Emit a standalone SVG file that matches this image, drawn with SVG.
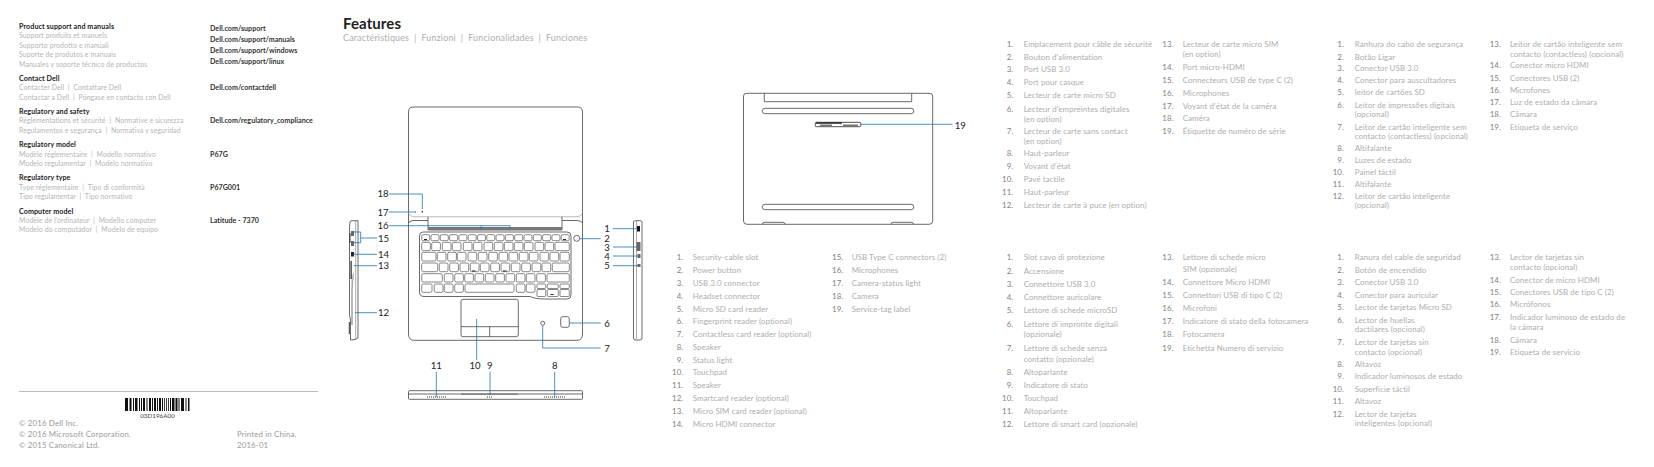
<svg xmlns="http://www.w3.org/2000/svg" width="1654" height="467" viewBox="0 0 1654 467">
<style>
text{font-family:Lato,"Open Sans","Liberation Sans",sans-serif;font-size:7.9px;font-weight:400;fill:#adadad;letter-spacing:.1px;white-space:pre}
.h{font-size:7.1px;font-weight:700;fill:#222;letter-spacing:.1px}
.s{font-size:6.9px;fill:#b5b5b5;letter-spacing:.1px}
.v{font-size:7.100px;font-weight:700;fill:#333;letter-spacing:.02px}
.n{text-anchor:end;fill:#808080}
.c{font-size:7.800px;fill:#999;letter-spacing:.18px}
.d{font-size:9.6px;font-weight:400;fill:#222;text-anchor:middle;letter-spacing:0}
.o{fill:none;stroke:#444;stroke-width:.8}
.k rect{fill:none;stroke:#555;stroke-width:.7}
.l{fill:none;stroke:#1f74ab;stroke-width:.8}
.g{fill:#777}
</style>
<rect width="1654" height="467" fill="#fff"/>
<g id="support-info">
<text class="h" x="19" y="28.5">Product support and manuals</text>
<text class="s" x="19" y="37.5">Support produits et manuels</text>
<text class="s" x="19" y="47.5">Supporto prodotto e manuali</text>
<text class="s" x="19" y="56.5">Suporte de produtos e manuais</text>
<text class="s" x="19" y="66.5">Manuales y soporte técnico de productos</text>
<text class="h" x="19" y="80.5">Contact Dell</text>
<text class="s" x="19" y="89.5">Contacter Dell  |  Contattare Dell</text>
<text class="s" x="19" y="99.5">Contactar a Dell  |  Póngase en contacto con Dell</text>
<text class="h" x="19" y="113.5">Regulatory and safety</text>
<text class="s" x="19" y="122.5">Réglementations et sécurité  |  Normative e sicurezza</text>
<text class="s" x="19" y="132.5">Regulamentos e segurança  |  Normativa y seguridad</text>
<text class="h" x="19" y="146.5">Regulatory model</text>
<text class="s" x="19" y="156.5">Modèle réglementaire  |  Modello normativo</text>
<text class="s" x="19" y="165.5">Modelo regulamentar  |  Modelo normativo</text>
<text class="h" x="19" y="179.5">Regulatory type</text>
<text class="s" x="19" y="189.5">Type réglementaire  |  Tipo di conformità</text>
<text class="s" x="19" y="198.5">Tipo regulamentar  |  Tipo normativo</text>
<text class="h" x="19" y="213.5">Computer model</text>
<text class="s" x="19" y="222.5">Modèle de l’ordinateur  |  Modello computer</text>
<text class="s" x="19" y="231.5">Modelo do computador  |  Modelo de equipo</text>
<text class="v" x="210" y="30.5">Dell.com/support</text>
<text class="v" x="210" y="41.5">Dell.com/support/manuals</text>
<text class="v" x="210" y="52.5">Dell.com/support/windows</text>
<text class="v" x="210" y="63.5">Dell.com/support/linux</text>
<text class="v" x="210" y="89.5">Dell.com/contactdell</text>
<text class="v" x="210" y="122.5">Dell.com/regulatory_compliance</text>
<text class="v" x="210" y="156.5">P67G</text>
<text class="v" x="210" y="189.5">P67G001</text>
<text class="v" x="210" y="222.5">Latitude - 7370</text>
</g>
<g id="footer">
<line x1="19" y1="391.5" x2="318" y2="391.5" stroke="#aaa" stroke-width=".8"/>
<path fill="#111" d="M125 398h3v13h-3zM129.500 398h2v13h-2zM133 398h1v13h-1zM135 398h2.500v13h-2.500zM139 398h1v13h-1zM141 398h1v13h-1zM143 398h2v13h-2zM146.500 398h1v13h-1zM149 398h2v13h-2zM152 398h1v13h-1zM154 398h2v13h-2zM157 398h1v13h-1zM159 398h2v13h-2zM162 398h1v13h-1zM164 398h.8v13h-.8zM166 398h.8v13h-.8zM168 398h.8v13h-.8zM170 398h1v13h-1zM172 398h2.500v13h-2.500zM175.500 398h2v13h-2zM178.500 398h1v13h-1zM181 398h3v13h-3zM185.500 398h1v13h-1zM188 398h1.500v13h-1.500z"/>
<text x="157.500" y="418" text-anchor="middle" style="font-size:6.300px;font-weight:400;fill:#444;letter-spacing:0">03D196A00</text>
<text class="c" x="19" y="425.500">© 2016 Dell Inc.</text>
<text class="c" x="19" y="436.500">© 2016 Microsoft Corporation.</text>
<text class="c" x="19" y="447.500">© 2015 Canonical Ltd.</text>
<text class="c" x="237" y="436.500">Printed in China.</text>
<text class="c" x="237" y="447.500">2016-01</text>
</g>
<g id="title">
<text x="343" y="28.500" style="font-size:15px;font-weight:700;fill:#222;letter-spacing:.1px">Features</text>
<text x="343" y="41" style="font-size:8.900px;fill:#adadad;letter-spacing:.2px">Caractéristiques  |  Funzioni  |  Funcionalidades  |  Funciones</text>
</g>
<g id="laptop-top">
<path class="o" d="M408.500 112Q408.500 107 413 107H577.500Q582.500 107 582.500 112V334Q582.500 340.300 577 340.300H414Q408.500 340.300 408.500 334Z"/>
<path fill="none" stroke="#999" stroke-width=".7" d="M408.500 212Q409 216.800 415 216.800H576Q582 216.800 582.500 212"/>
<path class="o" d="M428 216.800V230H562V216.800M428 220.500H413Q409 220.800 409 223M562 220.500H577Q582 220.800 582.200 223"/>
<rect class="g" x="428" y="227" width="134" height="3"/>
<path class="o" d="M423 232H567Q571 232 571 236V295Q571 299 567 299H545Q535 299 530 296.500H424Q419.500 296.500 419.500 292V236Q419.500 232 423 232Z"/>
<g class="k">
<rect rx="1.500" x="421.700" y="234.700" width="8" height="6"/><rect rx="1.500" x="431" y="234.700" width="8" height="6"/><rect rx="1.500" x="440.300" y="234.700" width="8" height="6"/><rect rx="1.500" x="449.600" y="234.700" width="8" height="6"/><rect rx="1.500" x="458.900" y="234.700" width="8" height="6"/><rect rx="1.500" x="468.200" y="234.700" width="8" height="6"/><rect rx="1.500" x="477.500" y="234.700" width="8" height="6"/><rect rx="1.500" x="486.800" y="234.700" width="8" height="6"/><rect rx="1.500" x="496.100" y="234.700" width="8" height="6"/><rect rx="1.500" x="505.400" y="234.700" width="8" height="6"/><rect rx="1.500" x="514.700" y="234.700" width="8" height="6"/><rect rx="1.500" x="524" y="234.700" width="8" height="6"/><rect rx="1.500" x="533.300" y="234.700" width="8" height="6"/><rect rx="1.500" x="542.600" y="234.700" width="8" height="6"/><rect rx="1.500" x="551.900" y="234.700" width="8" height="6"/><rect rx="1.500" x="561.200" y="234.700" width="8" height="6"/>
<rect rx="1.500" x="421.700" y="242.300" width="8.700" height="8.400"/><rect rx="1.500" x="431.700" y="242.300" width="8.700" height="8.400"/><rect rx="1.500" x="442.300" y="242.300" width="8.700" height="8.400"/><rect rx="1.500" x="452.300" y="242.300" width="8.700" height="8.400"/><rect rx="1.500" x="463.300" y="242.300" width="8.700" height="8.400"/><rect rx="1.500" x="473.300" y="242.300" width="8.700" height="8.400"/><rect rx="1.500" x="484" y="242.300" width="8.700" height="8.400"/><rect rx="1.500" x="494.300" y="242.300" width="8.700" height="8.400"/><rect rx="1.500" x="504.300" y="242.300" width="8.700" height="8.400"/><rect rx="1.500" x="514.300" y="242.300" width="8.700" height="8.400"/><rect rx="1.500" x="524.300" y="242.300" width="8.700" height="8.400"/><rect rx="1.500" x="535" y="242.300" width="8.700" height="8.400"/><rect rx="1.500" x="545" y="242.300" width="8.700" height="8.400"/><rect rx="1.500" x="555" y="242.300" width="14.300" height="8.400"/>
<rect rx="1.500" x="421.700" y="252.300" width="14.300" height="8.700"/><rect rx="1.500" x="437.300" y="252.300" width="8.700" height="8.700"/><rect rx="1.500" x="447.700" y="252.300" width="8.700" height="8.700"/><rect rx="1.500" x="457.300" y="252.300" width="8.700" height="8.700"/><rect rx="1.500" x="468" y="252.300" width="8.700" height="8.700"/><rect rx="1.500" x="478.300" y="252.300" width="8.700" height="8.700"/><rect rx="1.500" x="488.700" y="252.300" width="8.700" height="8.700"/><rect rx="1.500" x="499" y="252.300" width="8.700" height="8.700"/><rect rx="1.500" x="509" y="252.300" width="8.700" height="8.700"/><rect rx="1.500" x="519.300" y="252.300" width="8.700" height="8.700"/><rect rx="1.500" x="529.300" y="252.300" width="8.700" height="8.700"/><rect rx="1.500" x="540" y="252.300" width="8.700" height="8.700"/><rect rx="1.500" x="550" y="252.300" width="8.700" height="8.700"/><rect rx="1.500" x="560" y="252.300" width="9.300" height="8.700"/>
<rect rx="1.500" x="421.700" y="263" width="16" height="8.700"/><rect rx="1.500" x="439.300" y="263" width="8.700" height="8.700"/><rect rx="1.500" x="449.700" y="263" width="8.700" height="8.700"/><rect rx="1.500" x="460" y="263" width="8.700" height="8.700"/><rect rx="1.500" x="470.300" y="263" width="8.700" height="8.700"/><rect rx="1.500" x="480.300" y="263" width="8.700" height="8.700"/><rect rx="1.500" x="490.700" y="263" width="8.700" height="8.700"/><rect rx="1.500" x="501" y="263" width="8.700" height="8.700"/><rect rx="1.500" x="511.300" y="263" width="8.700" height="8.700"/><rect rx="1.500" x="521.700" y="263" width="8.700" height="8.700"/><rect rx="1.500" x="532" y="263" width="8.700" height="8.700"/><rect rx="1.500" x="542" y="263" width="8.700" height="8.700"/><rect rx="1.500" x="552.300" y="263" width="17" height="8.700"/>
<rect rx="1.500" x="421.700" y="273.700" width="20.600" height="8.300"/><rect rx="1.500" x="444.300" y="273.700" width="8.700" height="8.300"/><rect rx="1.500" x="454.700" y="273.700" width="8.700" height="8.300"/><rect rx="1.500" x="464.700" y="273.700" width="8.700" height="8.300"/><rect rx="1.500" x="475" y="273.700" width="8.700" height="8.300"/><rect rx="1.500" x="485.300" y="273.700" width="8.700" height="8.300"/><rect rx="1.500" x="495.700" y="273.700" width="8.700" height="8.300"/><rect rx="1.500" x="506" y="273.700" width="8.700" height="8.300"/><rect rx="1.500" x="516.300" y="273.700" width="8.700" height="8.300"/><rect rx="1.500" x="526.300" y="273.700" width="8.700" height="8.300"/><rect rx="1.500" x="536.700" y="273.700" width="8.700" height="8.300"/><rect rx="1.500" x="547" y="273.700" width="22.300" height="8.300"/>
<rect rx="1.500" x="421.700" y="284" width="10.300" height="8.300"/><rect rx="1.500" x="434.300" y="284" width="8.700" height="8.300"/><rect rx="1.500" x="444.300" y="284" width="8.700" height="8.300"/><rect rx="1.500" x="454.700" y="284" width="8.700" height="8.300"/><rect rx="1.500" x="465" y="284" width="49" height="8.300"/><rect rx="1.500" x="516.300" y="284" width="8.700" height="8.300"/><rect rx="1.500" x="526.300" y="284" width="8.700" height="8.300"/>
<rect rx="1" x="537" y="284" width="8.700" height="4.500"/><rect rx="1" x="547.300" y="284" width="11" height="4.500"/><rect rx="1" x="560" y="284" width="9.300" height="4.500"/><rect rx="1" x="537" y="289.500" width="8.700" height="7"/><rect rx="1" x="547.300" y="289.500" width="11" height="7"/><rect rx="1" x="560" y="289.500" width="9.300" height="7"/>
</g>
<path fill="#222" d="M424 239h3v1h-3zM563 239h3v1h-3zM472 270.500h3.500v1h-3.500zM503 270.500h3.500v1h-3.500zM550.500 294h3v1h-3z"/>
<rect class="o" x="461" y="299.300" width="57.300" height="37.400" rx="2"/>
<path class="o" d="M461 326.700H518.300M489.700 326.700V336.700"/>
<circle class="o" cx="542.700" cy="323.300" r="2"/>
<rect class="o" x="560.700" y="316.700" width="8.600" height="10.600" rx="2"/>
<circle class="o" cx="576.700" cy="238.300" r="3"/>
<path fill="#333" d="M415 211.500h1v1h-1zM421.700 211h1.300v1.500h-1.300z"/>
</g>
<g id="laptop-left-side">
<path class="o" d="M350 222Q350 220.700 352 220.700H358V338Q356 340 350.500 340V320L349.500 315V228Z"/>
<path fill="none" stroke="#888" stroke-width=".7" d="M355.700 221V339M352 275V325M353.500 273L352 290V325"/>
<path fill="#666" d="M351 231h3v5h-3zM351 241h3v5h-3z"/>
<path fill="#222" d="M351 252h3v4.500h-3zM350.500 261h1.200v18h-1.200z"/>
<path fill="#333" d="M349.500 233h1v10h-1zM348.800 322h1v12h-1z"/>
</g>
<g id="laptop-right-side">
<path class="o" d="M633.500 222Q633.500 220.700 635.500 220.700H640Q642 220.700 642 222V338Q642 340 640 340H635.500Q633.500 340 633.500 338Z"/>
<path fill="none" stroke="#888" stroke-width=".7" d="M636.500 221V339"/>
<path fill="#111" d="M637 226h3v5.500h-3z"/>
<path fill="#666" d="M636.500 242h4v9h-4zM637.500 254h3v4h-3zM637.500 264h3v3h-3z"/>
</g>
<g id="laptop-front">
<rect class="o" x="408.500" y="390.700" width="174" height="8.600" rx="1"/>
<path class="o" d="M408.500 394H582.500"/>
<rect class="g" x="461" y="393.500" width="57" height="1.300"/>
<path fill="none" stroke="#777" stroke-width="1.500" stroke-dasharray="1 1" d="M427 397H447M544 397H565M487 397H493"/>
</g>
<g id="laptop-bottom">
<path class="o" d="M743.500 96Q743.500 93.300 747 93.300H929Q932.700 93.300 932.700 96V221Q932.700 224.300 929 224.300H747Q743.500 224.300 743.500 221Z"/>
<path class="o" d="M764.300 93.300V101.700H911.700V93.300"/>
<rect class="o" x="762.300" y="108.300" width="151.400" height="5.400" rx="2.500"/>
<rect class="o" x="762.300" y="204.300" width="151.400" height="5.400" rx="2.500"/>
<path class="o" d="M762.300 224.300Q762.300 222.300 765 222.300H783Q785 222.300 785 224.300M891 224.300Q891 222.300 893 222.300H911Q913.700 222.300 913.700 224.300"/>
<rect x="815.300" y="122.300" width="45.400" height="4.400" rx="1" fill="#fff" stroke="#222" stroke-width=".8"/>
<rect x="816" y="122.400" width="26" height="1.300" fill="#111"/>
<path fill="#777" d="M820 124.500h12v1.500h-12zM843 124.500h15v1.500h-15z"/>
</g>
<g id="connectors">
<path class="l" d="M389 194H422.300V209M389 212H415M389 225.700H510V229M481 225.700V229M613 228.700H636M580 238.700H600.700M613 247H637M613 256H638M613 265.700H638M570 323H600.700M542.700 326V348H600.700M476.700 319V360M490 371.700V395M436.300 371.700V397M554.700 371.700V397M377 238H360.700M353 232H360.700V242.700H353M377 254.300H353M377 265.700H354M377 312.700H355M860.700 124.300H952.300"/>
</g>
<g id="callouts">
<text class="d" x="383" y="197">18</text><text class="d" x="383" y="215.500">17</text><text class="d" x="383" y="229">16</text><text class="d" x="383.500" y="241.500">15</text><text class="d" x="383.500" y="257.500">14</text><text class="d" x="383.500" y="269">13</text><text class="d" x="383.500" y="316">12</text>
<text class="d" x="607" y="232">1</text><text class="d" x="607" y="242">2</text><text class="d" x="607" y="250.500">3</text><text class="d" x="607" y="259.500">4</text><text class="d" x="607" y="269">5</text><text class="d" x="607" y="326.500">6</text><text class="d" x="607" y="351.500">7</text>
<text class="d" x="436.300" y="369">11</text><text class="d" x="475" y="369">10</text><text class="d" x="489.700" y="369">9</text><text class="d" x="554.700" y="369">8</text><text class="d" x="960.300" y="128.500">19</text>
</g>
<g id="list-en">
<text class="n" x="683.300" y="260.300">1.</text><text x="692.700" y="260.300">Security-cable slot</text>
<text class="n" x="683.300" y="273.300">2.</text><text x="692.700" y="273.300">Power button</text>
<text class="n" x="683.300" y="286.300">3.</text><text x="692.700" y="286.300">USB 3.0 connector</text>
<text class="n" x="683.300" y="299.300">4.</text><text x="692.700" y="299.300">Headset connector</text>
<text class="n" x="683.300" y="312.300">5.</text><text x="692.700" y="312.300">Micro SD card reader</text>
<text class="n" x="683.300" y="324.300">6.</text><text x="692.700" y="324.300">Fingerprint reader (optional)</text>
<text class="n" x="683.300" y="337.300">7.</text><text x="692.700" y="337.300">Contactless card reader (optional)</text>
<text class="n" x="683.300" y="350.300">8.</text><text x="692.700" y="350.300">Speaker</text>
<text class="n" x="683.300" y="363.300">9.</text><text x="692.700" y="363.300">Status light</text>
<text class="n" x="683.300" y="375.300">10.</text><text x="692.700" y="375.300">Touchpad</text>
<text class="n" x="683.300" y="388.300">11.</text><text x="692.700" y="388.300">Speaker</text>
<text class="n" x="683.300" y="401.300">12.</text><text x="692.700" y="401.300">Smartcard reader (optional)</text>
<text class="n" x="683.300" y="414.300">13.</text><text x="692.700" y="414.300">Micro SIM card reader (optional)</text>
<text class="n" x="683.300" y="427.300">14.</text><text x="692.700" y="427.300">Micro HDMI connector</text>
<text class="n" x="843.300" y="260.300">15.</text><text x="851.700" y="260.300">USB Type C connectors (2)</text>
<text class="n" x="843.300" y="273.300">16.</text><text x="851.700" y="273.300">Microphones</text>
<text class="n" x="843.300" y="286.300">17.</text><text x="851.700" y="286.300">Camera-status light</text>
<text class="n" x="843.300" y="299.300">18.</text><text x="851.700" y="299.300">Camera</text>
<text class="n" x="843.300" y="312.300">19.</text><text x="851.700" y="312.300">Service-tag label</text>
</g>
<g id="list-fr">
<text class="n" x="1013.300" y="47.300">1.</text><text x="1023.700" y="47.300">Emplacement pour câble de sécurité</text>
<text class="n" x="1013.300" y="60.300">2.</text><text x="1023.700" y="60.300">Bouton d'alimentation</text>
<text class="n" x="1013.300" y="72.300">3.</text><text x="1023.700" y="72.300">Port USB 3.0</text>
<text class="n" x="1013.300" y="85.300">4.</text><text x="1023.700" y="85.300">Port pour casque</text>
<text class="n" x="1013.300" y="98.300">5.</text><text x="1023.700" y="98.300">Lecteur de carte micro SD</text>
<text class="n" x="1013.300" y="111.700">6.</text><text x="1023.700" y="111.700">Lecteur d'empreintes digitales</text>
<text x="1023.700" y="121.700">(en option)</text>
<text class="n" x="1013.300" y="134.300">7.</text><text x="1023.700" y="134.300">Lecteur de carte sans contact</text>
<text x="1023.700" y="144.300">(en option)</text>
<text class="n" x="1013.300" y="156.300">8.</text><text x="1023.700" y="156.300">Haut-parleur</text>
<text class="n" x="1013.300" y="169.300">9.</text><text x="1023.700" y="169.300">Voyant d'état</text>
<text class="n" x="1013.300" y="182.300">10.</text><text x="1023.700" y="182.300">Pavé tactile</text>
<text class="n" x="1013.300" y="195.300">11.</text><text x="1023.700" y="195.300">Haut-parleur</text>
<text class="n" x="1013.300" y="208.300">12.</text><text x="1023.700" y="208.300">Lecteur de carte à puce (en option)</text>
<text class="n" x="1173.700" y="47.300">13.</text><text x="1182.700" y="47.300">Lecteur de carte micro SIM</text>
<text x="1182.700" y="57.300">(en option)</text>
<text class="n" x="1173.700" y="70.300">14.</text><text x="1182.700" y="70.300">Port micro-HDMI</text>
<text class="n" x="1173.700" y="83.300">15.</text><text x="1182.700" y="83.300">Connecteurs USB de type C (2)</text>
<text class="n" x="1173.700" y="95.700">16.</text><text x="1182.700" y="95.700">Microphones</text>
<text class="n" x="1173.700" y="108.700">17.</text><text x="1182.700" y="108.700">Voyant d'état de la caméra</text>
<text class="n" x="1173.700" y="121.300">18.</text><text x="1182.700" y="121.300">Caméra</text>
<text class="n" x="1173.700" y="134.300">19.</text><text x="1182.700" y="134.300">Étiquette de numéro de série</text>
</g>
<g id="list-pt">
<text class="n" x="1344" y="47.300">1.</text><text x="1354.700" y="47.300">Ranhura do cabo de segurança</text>
<text class="n" x="1344" y="59.700">2.</text><text x="1354.700" y="59.700">Botão Ligar</text>
<text class="n" x="1344" y="71.300">3.</text><text x="1354.700" y="71.300">Conector USB 3.0</text>
<text class="n" x="1344" y="83.300">4.</text><text x="1354.700" y="83.300">Conector para auscultadores</text>
<text class="n" x="1344" y="95.300">5.</text><text x="1354.700" y="95.300">leitor de cartões SD</text>
<text class="n" x="1344" y="108.300">6.</text><text x="1354.700" y="108.300">Leitor de impressões digitais</text>
<text x="1354.700" y="117.300">(opcional)</text>
<text class="n" x="1344" y="129.700">7.</text><text x="1354.700" y="129.700">Leitor de cartão inteligente sem</text>
<text x="1354.700" y="138.700">contacto (contactless) (opcional)</text>
<text class="n" x="1344" y="150.700">8.</text><text x="1354.700" y="150.700">Altifalante</text>
<text class="n" x="1344" y="163.300">9.</text><text x="1354.700" y="163.300">Luzes de estado</text>
<text class="n" x="1344" y="175.300">10.</text><text x="1354.700" y="175.300">Painel táctil</text>
<text class="n" x="1344" y="187.300">11.</text><text x="1354.700" y="187.300">Altifalante</text>
<text class="n" x="1344" y="199.300">12.</text><text x="1354.700" y="199.300">Leitor de cartão inteligente</text>
<text x="1354.700" y="208.300">(opcional)</text>
<text class="n" x="1501" y="47.300">13.</text><text x="1510" y="47.300">Leitor de cartão inteligente sem</text>
<text x="1510" y="56.700">contacto (contactless) (opcional)</text>
<text class="n" x="1501" y="68.300">14.</text><text x="1510" y="68.300">Conector micro HDMI</text>
<text class="n" x="1501" y="81">15.</text><text x="1510" y="81">Conectores USB (2)</text>
<text class="n" x="1501" y="93.300">16.</text><text x="1510" y="93.300">Microfones</text>
<text class="n" x="1501" y="105.300">17.</text><text x="1510" y="105.300">Luz de estado da câmara</text>
<text class="n" x="1501" y="117.300">18.</text><text x="1510" y="117.300">Câmara</text>
<text class="n" x="1501" y="129.700">19.</text><text x="1510" y="129.700">Etiqueta de serviço</text>
</g>
<g id="list-it">
<text class="n" x="1013.300" y="260.300">1.</text><text x="1023.700" y="260.300">Slot cavo di protezione</text>
<text class="n" x="1013.300" y="274.300">2.</text><text x="1023.700" y="274.300">Accensione</text>
<text class="n" x="1013.300" y="287.300">3.</text><text x="1023.700" y="287.300">Connettore USB 3.0</text>
<text class="n" x="1013.300" y="300.300">4.</text><text x="1023.700" y="300.300">Connettore auricolare</text>
<text class="n" x="1013.300" y="313.300">5.</text><text x="1023.700" y="313.300">Lettore di schede microSD</text>
<text class="n" x="1013.300" y="327.300">6.</text><text x="1023.700" y="327.300">Lettore di impronte digitali</text>
<text x="1023.700" y="337.300">(opzionale)</text>
<text class="n" x="1013.300" y="350.700">7.</text><text x="1023.700" y="350.700">Lettore di schede senza</text>
<text x="1023.700" y="361.700">contatto (opzionale)</text>
<text class="n" x="1013.300" y="374.700">8.</text><text x="1023.700" y="374.700">Altoparlante</text>
<text class="n" x="1013.300" y="387.700">9.</text><text x="1023.700" y="387.700">Indicatore di stato</text>
<text class="n" x="1013.300" y="400.700">10.</text><text x="1023.700" y="400.700">Touchpad</text>
<text class="n" x="1013.300" y="414.300">11.</text><text x="1023.700" y="414.300">Altoparlante</text>
<text class="n" x="1013.300" y="427.300">12.</text><text x="1023.700" y="427.300">Lettore di smart card (opzionale)</text>
<text class="n" x="1173.700" y="260.300">13.</text><text x="1182.700" y="260.300">Lettore di schede micro</text>
<text x="1182.700" y="271.700">SIM (opzionale)</text>
<text class="n" x="1173.700" y="284.700">14.</text><text x="1182.700" y="284.700">Connettore Micro HDMI</text>
<text class="n" x="1173.700" y="297.700">15.</text><text x="1182.700" y="297.700">Connettori USB di tipo C (2)</text>
<text class="n" x="1173.700" y="311.300">16.</text><text x="1182.700" y="311.300">Microfoni</text>
<text class="n" x="1173.700" y="324.300">17.</text><text x="1182.700" y="324.300">Indicatore di stato della fotocamera</text>
<text class="n" x="1173.700" y="337.300">18.</text><text x="1182.700" y="337.300">Fotocamera</text>
<text class="n" x="1173.700" y="350.700">19.</text><text x="1182.700" y="350.700">Etichetta Numero di servizio</text>
</g>
<g id="list-es">
<text class="n" x="1344" y="260.300">1.</text><text x="1354.700" y="260.300">Ranura del cable de seguridad</text>
<text class="n" x="1344" y="273.300">2.</text><text x="1354.700" y="273.300">Botón de encendido</text>
<text class="n" x="1344" y="285.300">3.</text><text x="1354.700" y="285.300">Conector USB 3.0</text>
<text class="n" x="1344" y="298.300">4.</text><text x="1354.700" y="298.300">Conector para auricular</text>
<text class="n" x="1344" y="310.300">5.</text><text x="1354.700" y="310.300">Lector de tarjetas Micro SD</text>
<text class="n" x="1344" y="323.300">6.</text><text x="1354.700" y="323.300">Lector de huellas</text>
<text x="1354.700" y="332.300">dactilares (opcional)</text>
<text class="n" x="1344" y="345.300">7.</text><text x="1354.700" y="345.300">Lector de tarjetas sin</text>
<text x="1354.700" y="354.700">contacto (opcional)</text>
<text class="n" x="1344" y="367.300">8.</text><text x="1354.700" y="367.300">Altavoz</text>
<text class="n" x="1344" y="379.300">9.</text><text x="1354.700" y="379.300">Indicador luminosos de estado</text>
<text class="n" x="1344" y="392.300">10.</text><text x="1354.700" y="392.300">Superficie táctil</text>
<text class="n" x="1344" y="404.300">11.</text><text x="1354.700" y="404.300">Altavoz</text>
<text class="n" x="1344" y="417.300">12.</text><text x="1354.700" y="417.300">Lector de tarjetas</text>
<text x="1354.700" y="426.300">inteligentes (opcional)</text>
<text class="n" x="1501" y="260.300">13.</text><text x="1510" y="260.300">Lector de tarjetas sin</text>
<text x="1510" y="270.300">contacto (opcional)</text>
<text class="n" x="1501" y="283.300">14.</text><text x="1510" y="283.300">Conector de micro HDMI</text>
<text class="n" x="1501" y="295.300">15.</text><text x="1510" y="295.300">Conectores USB de tipo C (2)</text>
<text class="n" x="1501" y="307.300">16.</text><text x="1510" y="307.300">Micrófonos</text>
<text class="n" x="1501" y="320.300">17.</text><text x="1510" y="320.300">Indicador luminoso de estado de</text>
<text x="1510" y="330.300">la cámara</text>
<text class="n" x="1501" y="342.700">18.</text><text x="1510" y="342.700">Cámara</text>
<text class="n" x="1501" y="354.700">19.</text><text x="1510" y="354.700">Etiqueta de servicio</text>
</g>
</svg>
